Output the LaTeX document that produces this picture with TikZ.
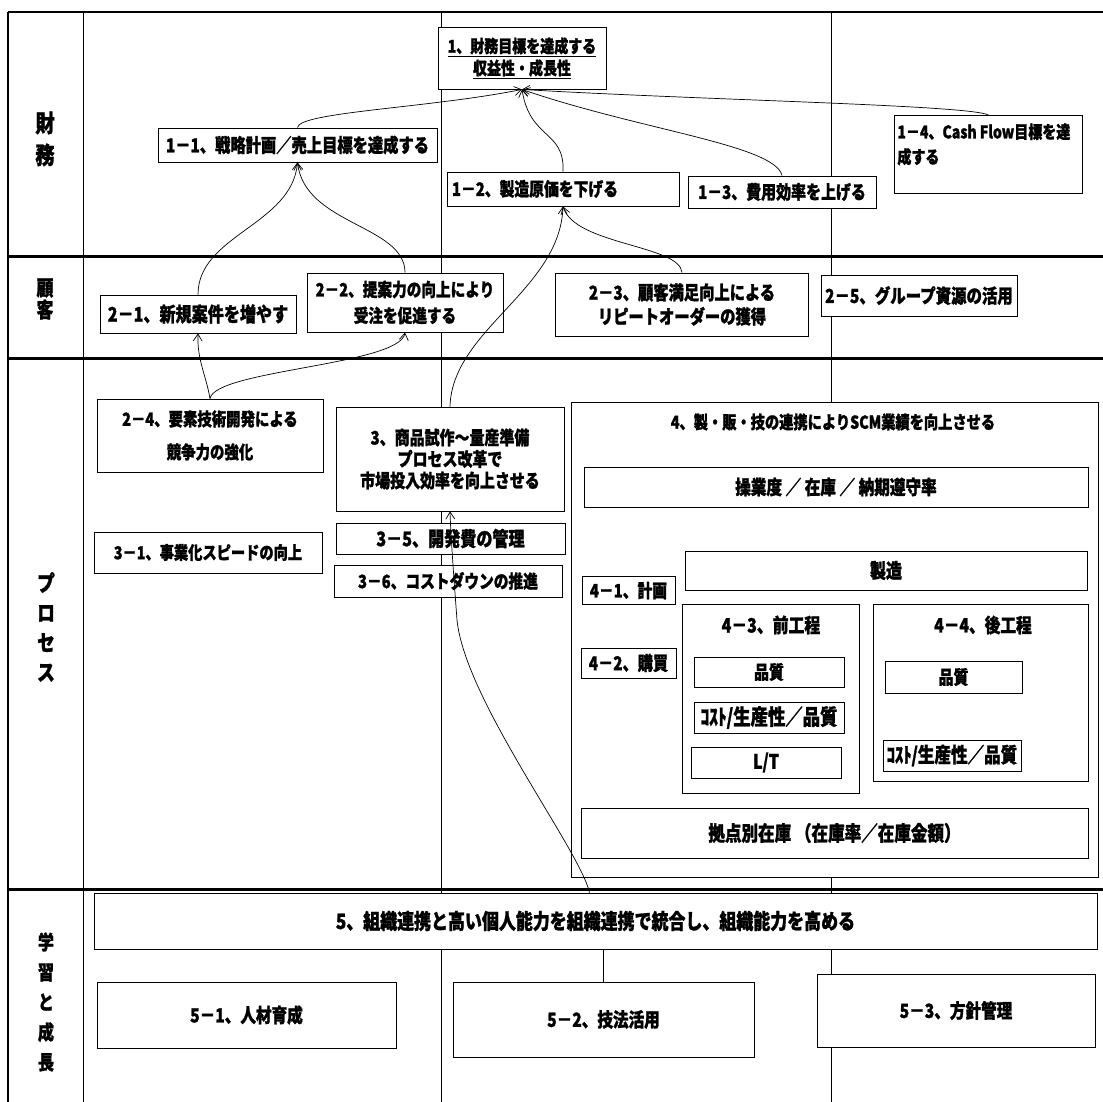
\documentclass[tikz,border=0pt]{standalone}
\usepackage{fontspec}
\setmainfont{Noto Sans CJK JP}[FakeStretch=0.8, BoldFeatures={FakeBold=1.2}]
\usetikzlibrary{arrows.meta,calc}
\begin{document}
\begin{tikzpicture}[x=1pt,y=-1pt,
  fz/.style 2 args={font=\bfseries\fontsize{#1}{#2}\selectfont},
  bx/.style={draw=black, fill=white, line width=0.9pt, inner sep=0pt, align=center},
  lab/.style={inner sep=0pt, align=center},
  ttl/.style={inner sep=0pt, align=center},
  gthin/.style={line width=1pt},
  gthick/.style={line width=3pt},
  arr/.style={line width=0.7pt, -{Straight Barb[length=7pt,width=9pt]}},
  lnk/.style={line width=0.7pt}
]
\path[fill=white] (0,0) rectangle (1103,1102);
\useasboundingbox (0,0) rectangle (1103,1102);

% grid
\draw[line width=2.5pt] (8,12) -- (1103,12);
\draw[line width=2pt] (8,12) -- (8,1102);
\draw[gthin] (83,12) -- (83,1102);
\draw[gthin] (441.5,12) -- (441.5,1102);
\draw[gthin] (831,12) -- (831,1102);
\draw[gthick] (8,256) -- (1103,256);
\draw[gthick] (8,358) -- (1103,358);
\draw[gthick] (8,889) -- (1103,889);

% row labels
\node[lab, fz={24}{32}] (lf) at (45,139) {財\\務};
\node[lab, fz={21}{22}] (lc) at (45,299) {顧\\客};
\node[lab, fz={22}{29.7}] (lp) at (46,627) {プ\\ロ\\セ\\ス};
\node[lab, fz={20}{30}] (ll) at (46,1002) {学\\習\\と\\成\\長};

% finance
\node[bx, fz={17.5}{22}, minimum width=168, minimum height=62] (f1) at (522,58)
  {\underline{1、財務目標を達成する}\\\underline{収益性・成長性}};
\node[bx, fz={19.1}{22}, minimum width=279, minimum height=34] (f11) at (297.5,145)
  {1－1、戦略計画／売上目標を達成する};
\node[bx, fz={18.5}{22}, minimum width=232, minimum height=34, text width=222, align=left] (f12) at (563,189)
  {1－2、製造原価を下げる};
\node[bx, fz={18.7}{22}, minimum width=188, minimum height=32] (f13) at (782,192)
  {1－3、費用効率を上げる};
\node[bx, fz={17.5}{25}, minimum width=188, minimum height=78, anchor=north west] (f14) at (894,115)
  {\parbox[c][62pt][t]{182pt}{\mbox{1－4、Cash Flow目標を達}\\成する}};

% customer
\node[bx, fz={20.1}{24}, minimum width=196, minimum height=38] (c21) at (198,314)
  {2－1、新規案件を増やす};
\node[bx, fz={18.3}{26}, minimum width=196, minimum height=59] (c22) at (405,302.5)
  {2－2、提案力の向上により\\受注を促進する};
\node[bx, fz={19.1}{24}, minimum width=253, minimum height=63] (c23) at (682,304.5)
  {2－3、顧客満足向上による\\リピートオーダーの獲得};
\node[bx, fz={19.3}{24}, minimum width=196, minimum height=41] (c25) at (919,295.5)
  {2－5、グループ資源の活用};

% process
\node[bx, fz={18}{33}, minimum width=226, minimum height=73] (c24) at (210,435.5)
  {2－4、要素技術開発による\\競争力の強化};
\node[bx, fz={18.7}{21.5}, minimum width=228, minimum height=104] (p3) at (450,459)
  {3、商品試作～量産準備\\プロセス改革で\\市場投入効率を向上させる};
\node[bx, fz={17.8}{22}, minimum width=228, minimum height=41] (p31) at (208,552.5)
  {3－1、事業化スピードの向上};
\node[bx, fz={20.1}{22}, minimum width=229, minimum height=31] (p35) at (450.5,538.5)
  {3－5、開発費の管理};
\node[bx, fz={18.4}{22}, minimum width=228, minimum height=32] (p36) at (448,581)
  {3－6、コストダウンの推進};

\node[bx, minimum width=527, minimum height=475] (p4) at (834.5,639.5) {};
\node[ttl, fz={17.8}{20}] (p4t) at (833,422) {4、製・販・技の連携によりSCM業績を向上させる};
\node[bx, fz={19.5}{22}, minimum width=504, minimum height=40] (opr) at (836,487)
  {操業度 ／ 在庫 ／ 納期遵守率};
\node[bx, fz={20}{22}, minimum width=402, minimum height=39] (mfg) at (886,570.5)
  {製造};
\node[bx, fz={18.5}{20}, minimum width=93, minimum height=28] (p41) at (628.5,590.5)
  {4－1、計画};
\node[bx, fz={19}{20}, minimum width=95, minimum height=30] (p42) at (628.5,663)
  {4－2、購買};
\node[bx, minimum width=177, minimum height=189] (p43) at (770.5,698.5) {};
\node[ttl, fz={19.8}{20}] (p43t) at (771,625) {4－3、前工程};
\node[bx, fz={18.7}{20}, minimum width=150, minimum height=30] (q1) at (769,672) {品質};
\node[bx, fz={21.7}{22}, minimum width=150, minimum height=31] (k1) at (769,717.5) {ｺｽﾄ/生産性／品質};
\node[bx, fz={20}{22}, minimum width=150, minimum height=31] (lt) at (766,762.5) {L/T};
\node[bx, minimum width=215, minimum height=177] (p44) at (980.5,692.5) {};
\node[ttl, fz={19.6}{20}] (p44t) at (983,625) {4－4、後工程};
\node[bx, fz={18.7}{20}, minimum width=137, minimum height=32] (q2) at (953.5,677) {品質};
\node[bx, fz={20.7}{22}, minimum width=138, minimum height=31] (k2) at (952,755.5) {ｺｽﾄ/生産性／品質};
\node[bx, fz={20.7}{22}, minimum width=507, minimum height=50] (inv) at (834.5,833)
  {拠点別在庫 （在庫率／在庫金額）};

% learning
\node[bx, fz={21.2}{24}, minimum width=1003, minimum height=56] (l5) at (595.5,921)
  {5、組織連携と高い個人能力を組織連携で統合し、組織能力を高める};
\node[bx, fz={19.5}{22}, minimum width=299, minimum height=66] (l51) at (246.5,1015) {5－1、人材育成};
\node[bx, fz={19.5}{22}, minimum width=301, minimum height=75] (l52) at (603.5,1019.5) {5－2、技法活用};
\node[bx, fz={19.5}{22}, minimum width=278, minimum height=73] (l53) at (956,1010.5) {5－3、方針管理};

% connectors
\draw[arr] (f11.north) .. controls (299,112) and (430,108) .. (f1.south);
\draw[arr] (f12.north) .. controls (565,130) and (530,140) .. (f1.south);
\draw[arr] (f13.north) .. controls (775,145) and (640,130) .. (f1.south);
\draw[arr] (f14.north) .. controls (970,105) and (700,100) .. (f1.south);
\draw[arr] (c21.north) .. controls (198,235) and (292,225) .. (f11.south);
\draw[arr] (c22.north) .. controls (405,225) and (305,225) .. (f11.south);
\draw[arr] (c23.north) .. controls (680,245) and (575,245) .. (f12.south);
\draw[arr] (p3.north) .. controls (452,330) and (560,290) .. (f12.south);
\draw[arr] (c24.north) .. controls (206,375) and (197,360) .. (c21.south);
\draw[arr] (c24.north) .. controls (215,370) and (400,365) .. (c22.south);
\draw[arr] ($(l5.north)+(-6,0)$) .. controls (580,850) and (465,700) .. (457,620)
  .. controls (454,580) and (451,540) .. (p3.south);
\draw[lnk] (l52.north) -- (l52.north |- l5.south);
\end{tikzpicture}
\end{document}
